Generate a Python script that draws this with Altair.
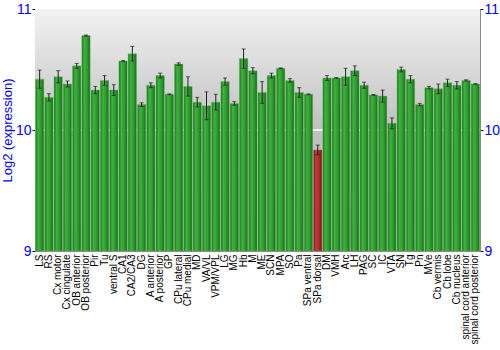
import altair as alt
import pandas as pd

regions = ["LS", "RS", "Cx motor", "Cx cingulate", "OB anterior", "OB posterior", "Pir", "Tu",
           "ventral S", "CA1", "CA2/CA3", "DG", "A anterior", "A posterior", "GP", "CPu lateral",
           "CPu medial", "MD", "VA/VL", "VPM/VPL", "LG", "MG", "Hb", "M", "ME", "SCN", "MPA", "SO",
           "Pa", "SPa ventral", "SPa dorsal", "DM", "VMH", "Arc", "LH", "PAG", "SC", "IC", "VTA",
           "SN", "Tg", "Pn", "MVe", "Cb vermis", "Cb lobe", "Cb nucleus", "spinal cord anterior",
           "spinal cord posterior"]
values = [10.42, 10.27, 10.44, 10.38, 10.53, 10.78, 10.33, 10.41,
          10.33, 10.57, 10.63, 10.21, 10.37, 10.45, 10.295, 10.545,
          10.36, 10.23, 10.20, 10.23, 10.40, 10.22, 10.59, 10.49, 10.31, 10.45, 10.51, 10.41,
          10.31, 10.295, 9.835, 10.43, 10.43, 10.44, 10.49, 10.37, 10.29, 10.28, 10.055,
          10.50, 10.42, 10.21, 10.35, 10.34, 10.39, 10.37, 10.41, 10.38]
errors = [0.075, 0.03, 0.05, 0.025, 0.02, 0.005, 0.03, 0.04,
          0.045, 0.003, 0.06, 0.015, 0.02, 0.02, 0.003, 0.01,
          0.08, 0.04, 0.115, 0.065, 0.03, 0.015, 0.08, 0.025, 0.09, 0.02, 0.003, 0.015,
          0.04, 0.003, 0.04, 0.02, 0.003, 0.07, 0.04, 0.025, 0.003, 0.05, 0.045,
          0.02, 0.03, 0.01, 0.01, 0.04, 0.03, 0.03, 0.005, 0.003]
highlight = "SPa dorsal"

df = pd.DataFrame({"region": regions, "value": values, "err": errors})
df["lo"] = df["value"] - df["err"]
df["hi"] = df["value"] + df["err"]
df["base"] = 9.0

W, H = 445, 242
FONT = "Liberation Sans"
BLUE = "#0000ff"

xenc = alt.X("region:N", sort=regions,
             scale=alt.Scale(paddingInner=0.1, paddingOuter=0.05),
             axis=alt.Axis(title=None, labelAngle=-90, labelFont=FONT, labelFontSize=10,
                           labelColor="black", domainColor="#888888", ticks=False,
                           labelPadding=3, labelAlign="right", labelBaseline="middle"))

INT_TEST = "abs(datum.value - round(datum.value)) < 0.001"


def ysc():
    return alt.Scale(domain=[9, 11], zero=False, nice=False, clamp=True)


def yaxis(orient, title):
    kw = dict(orient=orient, tickCount=2,
              labelExpr="abs(datum.value - round(datum.value)) < 0.001 ? "
                        "format(round(datum.value), 'd') : ''",
              tickOpacity={"condition": {"test": INT_TEST, "value": 1}, "value": 0},
              labelColor=BLUE, labelFont=FONT, labelFontSize=14,
              labelOverlap=False, labelFlush=False, tickColor="black", tickSize=3,
              domainColor="#888888", grid=False, labelPadding=1)
    if title:
        kw.update(title=title, titleColor=BLUE, titleFont=FONT, titleFontSize=13,
                  titleFontWeight="normal", titlePadding=1)
    else:
        kw.update(title=None)
    return alt.Axis(**kw)


bg = alt.Chart(pd.DataFrame({"a": [0]})).mark_rect(
    fill=alt.Gradient(gradient="linear", x1=0, x2=0, y1=0, y2=1,
                      stops=[alt.GradientStop(offset=0, color="#f2f2f2"),
                             alt.GradientStop(offset=0.5, color="#c0c0c0"),
                             alt.GradientStop(offset=1, color="#b8b8b8")])
).encode(x=alt.value(0), x2=alt.value(W), y=alt.value(0), y2=alt.value(H))

grid = alt.Chart(pd.DataFrame({"g": [10]})).mark_rule(color="white", strokeWidth=1.5).encode(
    y=alt.Y("g:Q", scale=ysc(), axis=yaxis("right", None))
)

green = alt.Gradient(gradient="linear", x1=0, x2=1, y1=0, y2=0,
                     stops=[alt.GradientStop(offset=0, color="#1c6f1c"),
                            alt.GradientStop(offset=0.3, color="#3db43d"),
                            alt.GradientStop(offset=0.65, color="#2e9c2e"),
                            alt.GradientStop(offset=1, color="#1a6a1a")])
red = alt.Gradient(gradient="linear", x1=0, x2=1, y1=0, y2=0,
                   stops=[alt.GradientStop(offset=0, color="#7a1a1a"),
                          alt.GradientStop(offset=0.3, color="#c23c3c"),
                          alt.GradientStop(offset=0.65, color="#a82e2e"),
                          alt.GradientStop(offset=1, color="#761818")])

bars = alt.Chart(df).transform_filter(alt.datum.region != highlight).mark_bar(
    fill=green, stroke="#5fbf5f", strokeWidth=0.4
).encode(x=xenc, y=alt.Y("value:Q", scale=ysc(), axis=yaxis("left", "Log2 (expression)")),
         y2="base:Q")

hbar = alt.Chart(df).transform_filter(alt.datum.region == highlight).mark_bar(
    fill=red, stroke="#d06060", strokeWidth=0.4
).encode(x=xenc, y=alt.Y("value:Q", scale=ysc(), axis=None), y2="base:Q")

rules = alt.Chart(df).mark_rule(color="#222222", strokeWidth=1).encode(
    x=xenc, y=alt.Y("lo:Q", scale=ysc(), axis=None), y2="hi:Q")
caps_lo = alt.Chart(df).mark_tick(color="#222222", size=4, thickness=1).encode(
    x=xenc, y=alt.Y("lo:Q", scale=ysc(), axis=None))
caps_hi = alt.Chart(df).mark_tick(color="#222222", size=4, thickness=1).encode(
    x=xenc, y=alt.Y("hi:Q", scale=ysc(), axis=None))

chart = alt.layer(bg, grid, bars, hbar, rules, caps_lo, caps_hi).resolve_scale(
    y="independent"
).properties(
    width=W, height=H, autosize=alt.AutoSizeParams(type="none"),
    padding={"left": 35, "top": 9, "right": 20, "bottom": 99}
).configure_view(stroke="#888888", strokeWidth=1.5).configure(background="white")

chart.save("out.html", embed_options={"renderer": "svg", "actions": False})
